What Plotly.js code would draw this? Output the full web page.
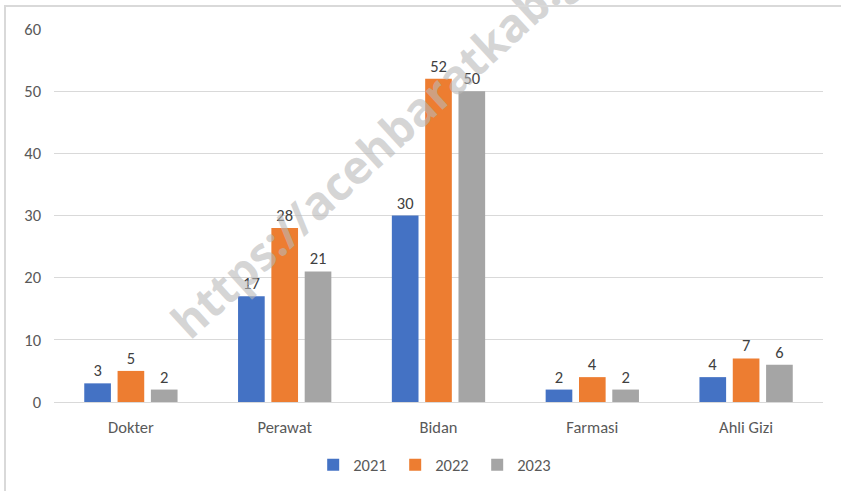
<!DOCTYPE html>
<html>
<head>
<meta charset="utf-8">
<script src="https://cdn.plot.ly/plotly-3.0.1.min.js"></script>
<style>
html,body{margin:0;padding:0;background:#fff;overflow:hidden;}
#wrap{position:relative;width:841px;height:491px;}
#chart{position:absolute;left:0;top:0;width:841px;height:491px;}
#frame{position:absolute;left:4px;top:5px;width:850px;height:500px;border:2px solid #d9d9d9;box-sizing:border-box;pointer-events:none;}
</style>
</head>
<body>
<div id="wrap"><div id="chart"></div><div id="frame"></div></div>
<script>
const categories = ["Dokter", "Perawat", "Bidan", "Farmasi", "Ahli Gizi"];
const seriesNames = ["2021", "2022", "2023"];
const values2021 = [3, 17, 30, 2, 4];
const values2022 = [5, 28, 52, 4, 7];
const values2023 = [2, 21, 50, 2, 6];
const yTicks = [0, 10, 20, 30, 40, 50, 60];
const watermark = "https://acehbaratkab.go.id";

const colors = ["#4472C4", "#ED7D31", "#A5A5A5"];
const allValues = [values2021, values2022, values2023];
const font = "Calibri, Carlito, 'Open Sans', 'Liberation Sans', sans-serif";

const traces = allValues.map((v, i) => ({
  type: "bar",
  name: seriesNames[i],
  x: categories,
  y: v,
  marker: {color: colors[i]},
  text: v.map(String),
  textposition: "outside",
  cliponaxis: false,
  textfont: {family: font, size: 16.5, color: "#404040"},
  hoverinfo: "none"
}));

const layout = {
  width: 841, height: 491,
  margin: {l: 54, r: 18, t: 29, b: 89, autoexpand: false},
  paper_bgcolor: "#fff", plot_bgcolor: "#fff",
  barmode: "group", bargap: 0.35, bargroupgap: 0.2,
  font: {family: font, color: "#595959", size: 16.5},
  showlegend: true,
  legend: {orientation: "h", x: 0.497, xanchor: "center", yref: "container", y: 0.053, yanchor: "middle",
           font: {size: 16.5, color: "#595959"}, traceorder: "normal",
           entrywidth: 37, entrywidthmode: "pixels", itemwidth: 30},
  xaxis: {showline: true, linecolor: "#d9d9d9", linewidth: 1, ticks: "", showgrid: false,
          ticklabelstandoff: 10,
          tickfont: {size: 16.5, color: "#595959"}, fixedrange: true},
  yaxis: {range: [0, 60], tickvals: yTicks, showgrid: true, gridcolor: "#d9d9d9", gridwidth: 1,
          zeroline: false, showline: false, ticks: "", ticklen: 0, ticklabelstandoff: 12,
          tickfont: {size: 16.5, color: "#595959"}, fixedrange: true},
  annotations: [{
    text: "<b>" + watermark + "</b>",
    xref: "paper", yref: "paper",
    x: (405 - 54) / 769, y: (402 - 120) / 373,
    showarrow: false, textangle: -42.5,
    font: {family: "'Open Sans', 'Liberation Sans', sans-serif", size: 46, color: "rgba(185,185,185,0.6)"},
    xanchor: "center", yanchor: "middle"
  }]
};

Plotly.newPlot("chart", traces, layout, {displayModeBar: false, staticPlot: true});
</script>
</body>
</html>
